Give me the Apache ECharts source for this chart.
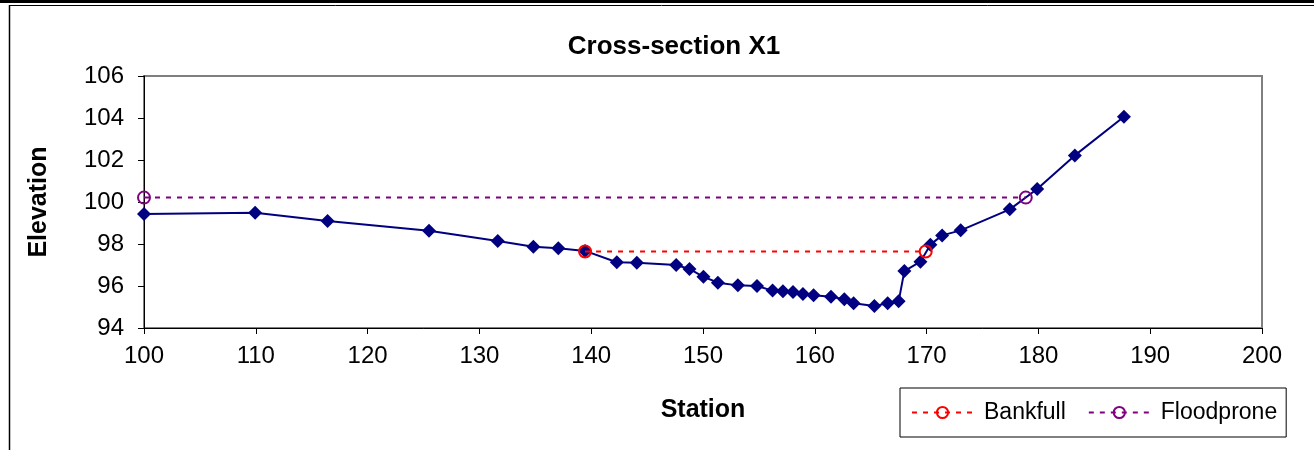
<!DOCTYPE html>
<html>
<head>
<meta charset="utf-8">
<style>
  html, body { margin: 0; padding: 0; background: #fff; }
  #chart { width: 1314px; height: 450px; }
</style>
<script src="https://cdn.jsdelivr.net/npm/echarts@6/dist/echarts.min.js"></script>
</head>
<body>
<div id="chart"></div>
<script>
const stations = [
  100, 109.94, 116.42, 125.49, 131.64, 134.83, 137.06, 139.45, 142.29, 144.08,
  147.6, 148.79, 150.04, 151.33, 153.12, 154.83, 156.22, 157.15, 158.05, 158.94,
  159.89, 161.45, 162.64, 163.47, 165.33, 166.52, 167.5, 168.01, 169.45, 170.34,
  171.39, 173.05, 177.44, 179.89, 183.26, 187.65
];
const elevations = [
  99.43, 99.49, 99.1, 98.63, 98.14, 97.87, 97.8, 97.67, 97.13, 97.11,
  97.0, 96.81, 96.44, 96.16, 96.03, 96.0, 95.78, 95.75, 95.71, 95.62,
  95.56, 95.49, 95.37, 95.18, 95.05, 95.18, 95.27, 96.71, 97.16, 97.97,
  98.41, 98.65, 99.65, 100.62, 102.22, 104.06
];

// Bankfull and floodprone lines: two end points each
const bankfullStations = [139.45, 169.92];
const bankfullElevations = [97.64, 97.64];
const floodStations = [100, 178.87];
const floodElevations = [100.21, 100.21];

const xTicks = { min: 100, max: 200, step: 10 };
const yTicks = { min: 94, max: 106, step: 2 };

const FONT = '"Liberation Sans", Arial, sans-serif';

const zip = (xs, ys) => xs.map((x, i) => [x, ys[i]]);

const chart = echarts.init(document.getElementById('chart'));

chart.setOption({
  animation: false,
  backgroundColor: '#fff',
  textStyle: { fontFamily: FONT, color: '#000' },
  title: {
    text: 'Cross-section X1',
    left: 669,
    top: 29,
    textAlign: 'center',
    textStyle: { fontFamily: FONT, fontSize: 26, fontWeight: 'bold', color: '#000' }
  },
  grid: {
    left: 144, right: 52, top: 76, bottom: 122,
    show: true, borderColor: '#808080', borderWidth: 2, backgroundColor: 'transparent'
  },
  xAxis: {
    type: 'value',
    min: xTicks.min, max: xTicks.max, interval: xTicks.step,
    name: 'Station',
    nameLocation: 'middle',
    nameGap: 70,
    nameTextStyle: { fontFamily: FONT, fontSize: 25, fontWeight: 'bold', color: '#000' },
    axisLine: { lineStyle: { color: '#000', width: 1 } },
    axisTick: { show: true, length: 6, lineStyle: { color: '#000' } },
    axisLabel: { fontFamily: FONT, fontSize: 24, color: '#000', margin: 16 },
    splitLine: { show: false }
  },
  yAxis: {
    type: 'value',
    min: yTicks.min, max: yTicks.max, interval: yTicks.step,
    name: 'Elevation',
    nameLocation: 'middle',
    nameGap: 92,
    nameTextStyle: { fontFamily: FONT, fontSize: 25, fontWeight: 'bold', color: '#000' },
    axisLine: { show: true, lineStyle: { color: '#000', width: 1 } },
    axisTick: { show: true, length: 6, lineStyle: { color: '#000' } },
    axisLabel: { fontFamily: FONT, fontSize: 24, color: '#000', margin: 20 },
    splitLine: { show: false }
  },
  legend: {
    left: 900, top: 388,
    orient: 'horizontal',
    data: ['Bankfull', 'Floodprone'],
    borderColor: '#000', borderWidth: 1,
    padding: [13, 9, 13, 11],
    itemWidth: 61, itemHeight: 14, itemGap: 22,
    textStyle: { fontFamily: FONT, fontSize: 23, color: '#000', padding: [0, 0, 0, 6] }
  },
  series: [
    {
      name: 'Cross-section',
      type: 'line',
      data: zip(stations, elevations),
      symbol: 'diamond',
      symbolSize: 14,
      itemStyle: { color: '#000080' },
      lineStyle: { color: '#000080', width: 2 },
      z: 2
    },
    {
      name: 'Bankfull',
      type: 'line',
      data: zip(bankfullStations, bankfullElevations),
      symbol: 'circle',
      symbolSize: 12,
      itemStyle: { color: 'rgba(0,0,0,0)', borderColor: '#ff0000', borderWidth: 2 },
      lineStyle: { color: '#ff0000', width: 2, type: [5, 6] },
      z: 3
    },
    {
      name: 'Floodprone',
      type: 'line',
      data: zip(floodStations, floodElevations),
      symbol: 'circle',
      symbolSize: 12,
      itemStyle: { color: 'rgba(0,0,0,0)', borderColor: '#800080', borderWidth: 2 },
      lineStyle: { color: '#800080', width: 2, type: [5, 6] },
      z: 3
    }
  ],
  graphic: [
    // outer frame of the sheet
    { type: 'rect', shape: { x: 0, y: 0, width: 1314, height: 3 }, style: { fill: '#000' }, silent: true },
    { type: 'line', shape: { x1: 9, y1: 5.5, x2: 1314, y2: 5.5 }, style: { stroke: '#000', lineWidth: 1 }, silent: true },
    { type: 'line', shape: { x1: 9.5, y1: 5, x2: 9.5, y2: 450 }, style: { stroke: '#000', lineWidth: 1.5 }, silent: true }
  ]
});
</script>
</body>
</html>
